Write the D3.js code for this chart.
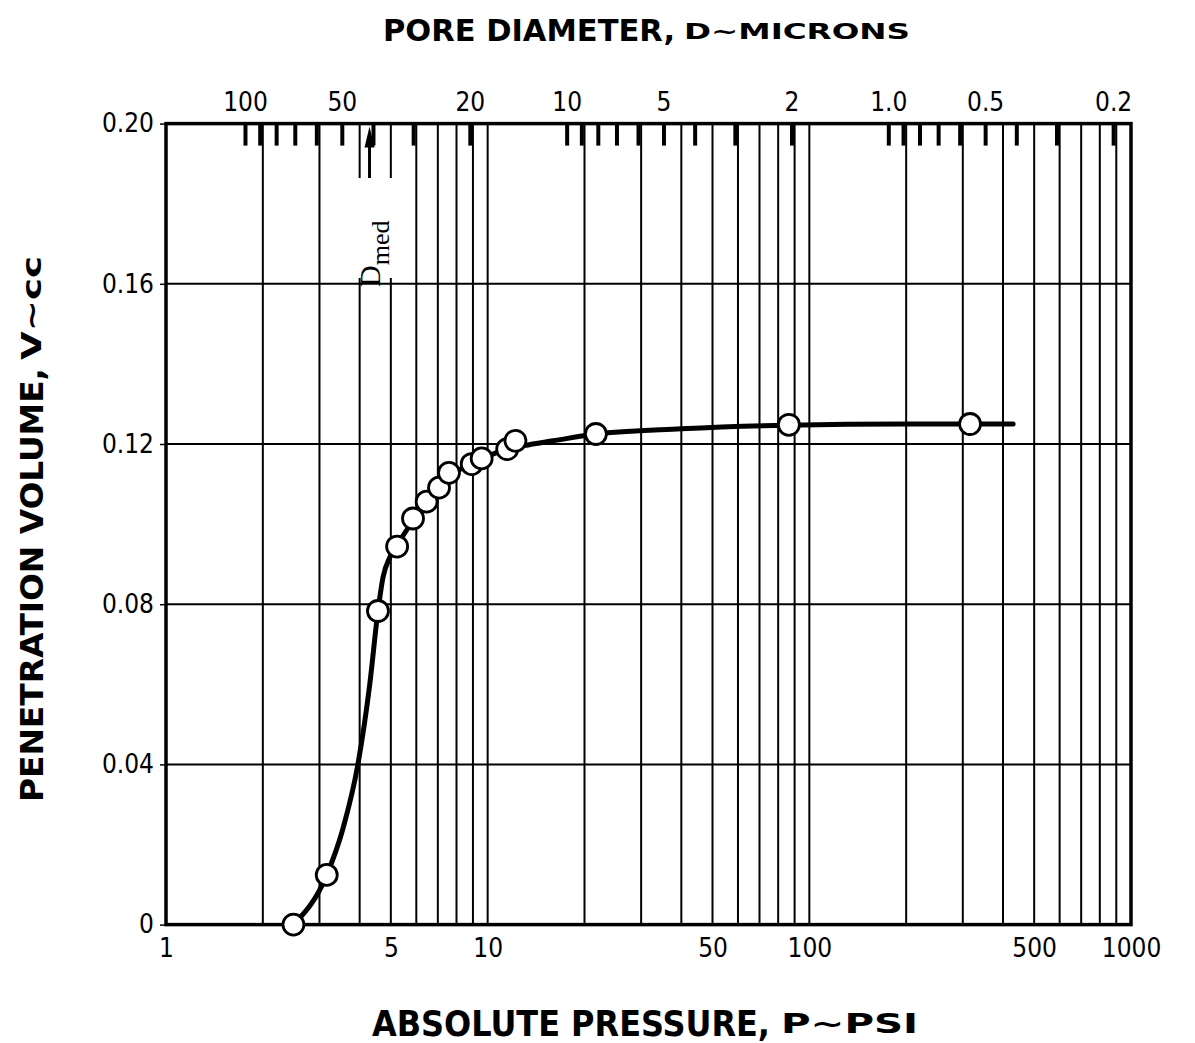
<!DOCTYPE html>
<html>
<head>
<meta charset="utf-8">
<script src="https://cdn.jsdelivr.net/npm/d3@7"></script>
<style>
  body { margin: 0; background: #fff; }
  svg text { font-family: "DejaVu Sans Condensed", "DejaVu Sans", sans-serif; fill: #000; }
</style>
</head>
<body>
<div id="chart"></div>
<script>
// measured points (absolute pressure in psi, penetration volume in cc)
const pressure = [2.49, 3.16, 4.56, 5.23, 5.86, 6.46, 7.06, 7.58, 8.92, 9.58, 11.5, 12.2, 21.7, 86.4, 316];
const volume   = [0, 0.0124, 0.0783, 0.0944, 0.1014, 0.1056, 0.1091, 0.1128, 0.1150, 0.1164, 0.1187, 0.1208, 0.1225, 0.1248, 0.1250];

// faired curve as drawn on the sheet
const curveP = [2.49, 3.16, 3.55, 3.95, 4.3, 4.56, 4.73, 4.97, 5.3, 5.86, 6.46, 7.06, 7.7, 8.6, 9.6, 11, 13, 16, 21.7, 40, 86, 200, 430];
const curveV = [0, 0.0124, 0.024, 0.04, 0.06, 0.0783, 0.0868, 0.0918, 0.0955, 0.1008, 0.105, 0.1088, 0.1122, 0.1145, 0.1163, 0.1182, 0.1196, 0.1208, 0.1225, 0.1238, 0.1247, 0.125, 0.125];

// axes
const xTicks = [1, 5, 10, 50, 100, 500, 1000];
const xGrid = [2, 3, 4, 5, 6, 7, 8, 9, 10, 20, 30, 40, 50, 60, 70, 80, 90, 100, 200, 300, 400, 500, 600, 700, 800, 900];
const yTicks = [0, 0.04, 0.08, 0.12, 0.16, 0.20];
const yTickLabels = ["0", "0.04", "0.08", "0.12", "0.16", "0.20"];
const yGrid = [0.04, 0.08, 0.12, 0.16];

// pore diameter scale (microns) on top
const poreConst = 176; // D = poreConst / P
const poreTicks = [100, 90, 80, 70, 60, 50, 40, 30, 20, 10, 9, 8, 7, 6, 5, 4, 3, 2, 1, 0.9, 0.8, 0.7, 0.6, 0.5, 0.4, 0.3, 0.2];
const poreLabels = [100, 50, 20, 10, 5, 2, 1, 0.5, 0.2];
const poreLabelText = ["100", "50", "20", "10", "5", "2", "1.0", "0.5", "0.2"];
const dMed = 41;

const width = 1195, height = 1043;
const plotL = 166, plotR = 1131, plotT = 123.6, plotB = 924.6;

const svg = d3.select("#chart").append("svg")
  .attr("width", width)
  .attr("height", height);

svg.append("rect").attr("width", width).attr("height", height).attr("fill", "#fff");

const x = d3.scaleLog().domain([1, 1000]).range([plotL, plotR]);
const y = d3.scaleLinear().domain([0, 0.2]).range([plotB, plotT]);
const xD = d3.scaleLog().domain([poreConst, poreConst / 1000]).range([plotL, plotR]);

// grid
svg.append("g").selectAll("line")
  .data(xGrid).enter().append("line")
  .attr("x1", d => x(d)).attr("x2", d => x(d))
  .attr("y1", plotT).attr("y2", plotB)
  .attr("stroke", "#000").attr("stroke-width", 2);

svg.append("g").selectAll("line")
  .data(yGrid).enter().append("line")
  .attr("x1", plotL).attr("x2", plotR)
  .attr("y1", d => y(d)).attr("y2", d => y(d))
  .attr("stroke", "#000").attr("stroke-width", 2);

// gap in grid for the Dmed label
const ax = xD(dMed);
svg.append("rect")
  .attr("x", ax - 20).attr("y", 178)
  .attr("width", 45).attr("height", 100)
  .attr("fill", "#fff");

// top axis: pore diameter
const topAxis = svg.append("g")
  .attr("transform", `translate(0,${plotT})`)
  .call(d3.axisTop(xD)
    .tickValues(poreTicks)
    .tickSize(-22)
    .tickPadding(13)
    .tickFormat(d => {
      const i = poreLabels.indexOf(d);
      return i >= 0 ? poreLabelText[i] : "";
    }));
topAxis.select(".domain").remove();
topAxis.selectAll(".tick line").attr("stroke", "#000").attr("stroke-width", 4);
topAxis.selectAll(".tick text").attr("font-size", 26).attr("fill", "#000");

// bottom axis
const botAxis = svg.append("g")
  .attr("transform", `translate(0,${plotB})`)
  .call(d3.axisBottom(x).tickValues(xTicks).tickSize(0).tickPadding(14).tickFormat(d3.format("d")));
botAxis.select(".domain").remove();
botAxis.selectAll(".tick text").attr("font-size", 26).attr("fill", "#000");

// left axis
const leftAxis = svg.append("g")
  .attr("transform", `translate(${plotL},0)`)
  .call(d3.axisLeft(y).tickValues(yTicks).tickSize(6).tickPadding(6)
    .tickFormat((d, i) => yTickLabels[i]));
leftAxis.select(".domain").remove();
leftAxis.selectAll(".tick line").attr("stroke", "#000").attr("stroke-width", 1.5);
leftAxis.selectAll(".tick text").attr("font-size", 26).attr("fill", "#000");

// frame
svg.append("rect")
  .attr("x", plotL).attr("y", plotT)
  .attr("width", plotR - plotL).attr("height", plotB - plotT)
  .attr("fill", "none").attr("stroke", "#000").attr("stroke-width", 3.5);

// Dmed arrow and label
svg.append("line")
  .attr("x1", ax).attr("x2", ax)
  .attr("y1", 178).attr("y2", 140)
  .attr("stroke", "#000").attr("stroke-width", 3);
svg.append("path")
  .attr("d", `M${ax},${plotT + 3} L${ax - 5},${plotT + 24} L${ax + 5},${plotT + 24} Z`)
  .attr("fill", "#000");

const dLab = svg.append("text")
  .attr("transform", `translate(${ax + 10},287) rotate(-90)`)
  .style("font-family", "'Liberation Serif', 'DejaVu Serif', serif")
  .attr("font-size", 30);
dLab.append("tspan").text("D");
dLab.append("tspan").attr("font-size", 26).attr("dy", 9).text("med");

// curve
const pts = curveP.map((p, i) => [x(p), y(curveV[i])]);
svg.append("path")
  .datum(pts)
  .attr("fill", "none")
  .attr("stroke", "#000")
  .attr("stroke-width", 5)
  .attr("stroke-linecap", "round")
  .attr("d", d3.line().curve(d3.curveMonotoneX));

// points
svg.append("g").selectAll("circle")
  .data(pressure.map((p, i) => ({ p, v: volume[i] })))
  .enter().append("circle")
  .attr("cx", d => x(d.p)).attr("cy", d => y(d.v))
  .attr("r", 10.5)
  .attr("fill", "#fff").attr("stroke", "#000").attr("stroke-width", 2.8);

// titles
svg.append("text")
  .attr("x", 383).attr("y", 41)
  .attr("font-size", 30).attr("font-weight", "bold")
  .attr("textLength", 292).attr("lengthAdjust", "spacingAndGlyphs")
  .text("PORE DIAMETER,");
svg.append("text")
  .attr("x", 684).attr("y", 39)
  .attr("font-size", 22).attr("font-weight", "bold")
  .attr("textLength", 226).attr("lengthAdjust", "spacingAndGlyphs")
  .text("D~MICRONS");

svg.append("text")
  .attr("x", 372).attr("y", 1036)
  .attr("font-size", 36).attr("font-weight", "bold")
  .attr("textLength", 398).attr("lengthAdjust", "spacingAndGlyphs")
  .text("ABSOLUTE PRESSURE,");
svg.append("text")
  .attr("x", 781).attr("y", 1033)
  .attr("font-size", 26).attr("font-weight", "bold")
  .attr("textLength", 137).attr("lengthAdjust", "spacingAndGlyphs")
  .text("P~PSI");

svg.append("text")
  .attr("transform", "translate(43,802) rotate(-90)")
  .attr("font-size", 32).attr("font-weight", "bold")
  .attr("textLength", 434).attr("lengthAdjust", "spacingAndGlyphs")
  .text("PENETRATION  VOLUME,");
svg.append("text")
  .attr("transform", "translate(41,360) rotate(-90)")
  .attr("font-size", 26).attr("font-weight", "bold")
  .attr("textLength", 104).attr("lengthAdjust", "spacingAndGlyphs")
  .text("V~cc");
</script>
</body>
</html>
